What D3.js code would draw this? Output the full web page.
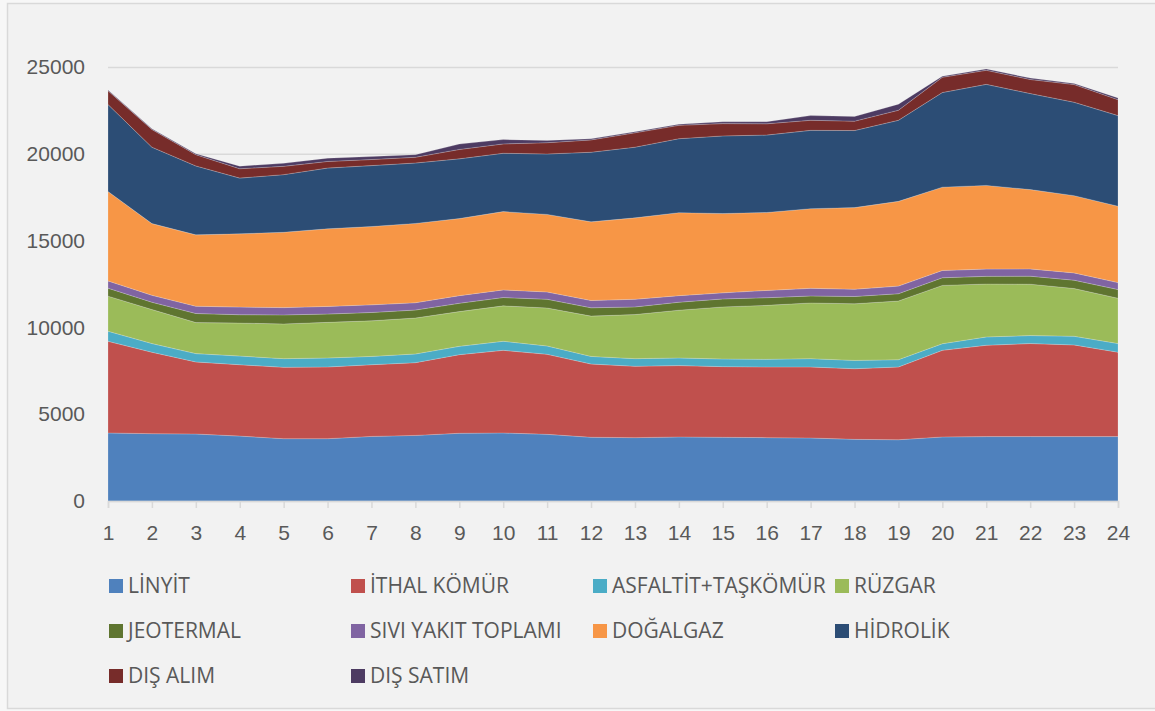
<!DOCTYPE html>
<html>
<head>
<meta charset="utf-8">
<script src="https://cdn.jsdelivr.net/npm/d3@7"></script>
<style>
  html, body { margin: 0; padding: 0; background: #f7f7f7; }
  svg { display: block; font-family: "Open Sans", "Noto Sans", sans-serif; }
</style>
</head>
<body>
<svg id="chart" width="1155" height="711"></svg>
<script>
// hours of the day
const hours = d3.range(1, 25);

// generation by source (MWh)
const linyit     = [3920,3880,3860,3740,3590,3590,3720,3780,3900,3920,3840,3670,3650,3690,3670,3650,3630,3550,3530,3690,3710,3710,3710,3710];
const ithalKomur = [5280,4690,4150,4110,4110,4130,4130,4190,4530,4760,4610,4220,4110,4110,4070,4070,4090,4070,4190,4990,5260,5360,5280,4860];
const asfaltit   = [580,500,480,500,500,520,480,500,480,520,480,440,440,440,440,440,480,480,420,380,480,460,500,500];
const ruzgar     = [2020,1960,1790,1900,2000,2050,2050,2070,2000,2040,2190,2320,2540,2750,3000,3110,3210,3260,3380,3360,3050,2960,2750,2610];
const jeotermal  = [460,420,520,480,520,480,480,460,480,480,500,480,440,460,460,440,400,420,420,440,440,460,480,500];
const siviYakit  = [420,400,420,440,420,440,440,420,440,440,420,420,440,380,350,420,440,420,440,420,420,420,420,400];
const dogalgaz   = [5150,4130,4110,4220,4340,4470,4510,4570,4440,4510,4470,4530,4690,4780,4570,4490,4590,4700,4880,4800,4820,4570,4450,4400];
const hidrolik   = [5010,4400,3970,3210,3320,3500,3510,3480,3440,3360,3480,4010,4070,4260,4470,4460,4510,4440,4670,5450,5820,5530,5380,5220];
const disAlim    = [790,1020,650,540,480,380,350,330,540,540,650,710,830,770,710,650,580,540,580,880,810,810,1020,920];
const disSatim   = [40,40,60,150,170,190,170,150,310,250,130,60,60,60,100,120,270,270,350,60,80,80,60,100];

const seriesNames = ["LİNYİT", "İTHAL KÖMÜR", "ASFALTİT+TAŞKÖMÜR", "RÜZGAR", "JEOTERMAL",
                     "SIVI YAKIT TOPLAMI", "DOĞALGAZ", "HİDROLİK", "DIŞ ALIM", "DIŞ SATIM"];
const seriesValues = [linyit, ithalKomur, asfaltit, ruzgar, jeotermal, siviYakit, dogalgaz, hidrolik, disAlim, disSatim];
const colors = ["#4f81bd", "#c0504d", "#4bacc6", "#9bbb59", "#5f7530",
                "#8064a2", "#f79646", "#2c4d75", "#772c2a", "#4d3b62"];
const yTicks = [0, 5000, 10000, 15000, 20000, 25000];

// table for d3.stack
const table = hours.map((h, i) => {
  const row = { hour: h };
  seriesNames.forEach((name, k) => row[name] = seriesValues[k][i]);
  return row;
});

const svg = d3.select("#chart");
const plotLeft = 108, plotRight = 1118, plotTop = 67, plotBottom = 501;

// chart frame
svg.append("rect")
  .attr("x", 7.5).attr("y", 3.5)
  .attr("width", 1160).attr("height", 705)
  .attr("fill", "#f2f2f2")
  .attr("stroke", "#d9d9d9")
  .attr("stroke-width", 1.5);

const x = d3.scaleLinear().domain([1, 24]).range([plotLeft, plotRight]);
const y = d3.scaleLinear().domain([0, 25000]).range([plotBottom, plotTop]);

// gridlines + y labels
svg.append("g")
  .attr("transform", "translate(" + plotLeft + ",0)")
  .call(d3.axisLeft(y).tickValues(yTicks).tickSize(-(plotRight - plotLeft)).tickPadding(23).tickFormat(d3.format("d")))
  .call(g => g.select(".domain").remove())
  .call(g => g.selectAll(".tick line").attr("stroke", "#d9d9d9").attr("stroke-width", 1.5))
  .call(g => g.selectAll("text").attr("fill", "#595959").attr("font-size", "21px"));

// stacked areas
const stack = d3.stack().keys(seriesNames);
const layers = stack(table);

const area = d3.area()
  .x(d => x(d.data.hour))
  .y0(d => y(d[0]))
  .y1(d => y(d[1]));

svg.append("g")
  .selectAll("path")
  .data(layers)
  .enter()
  .append("path")
  .attr("d", area)
  .attr("fill", (d, i) => colors[i])
  .attr("stroke", "#f2f2f2")
  .attr("stroke-opacity", 0.35)
  .attr("stroke-width", 0.6);

// x axis
svg.append("g")
  .attr("transform", "translate(0," + plotBottom + ")")
  .call(d3.axisBottom(x).tickValues(hours).tickSize(7).tickPadding(17).tickFormat(d3.format("d")))
  .call(g => g.select(".domain").attr("stroke", "#d9d9d9").attr("stroke-width", 1.5))
  .call(g => g.selectAll(".tick line").attr("stroke", "#d9d9d9").attr("stroke-width", 1.5))
  .call(g => g.selectAll("text").attr("fill", "#595959").attr("font-size", "21px"));

// legend, 4 columns
const legend = svg.append("g")
  .selectAll("g")
  .data(seriesNames)
  .enter()
  .append("g")
  .attr("transform", (d, i) => "translate(" + (109 + (i % 4) * 242) + "," + (586 + Math.floor(i / 4) * 45) + ")");

legend.append("rect")
  .attr("x", 0).attr("y", -7)
  .attr("width", 14).attr("height", 14)
  .attr("fill", (d, i) => colors[i]);

legend.append("text")
  .attr("x", 19).attr("y", 0)
  .attr("dy", "0.35em")
  .attr("fill", "#595959")
  .attr("font-size", "21px")
  .text(d => d);
</script>
</body>
</html>
